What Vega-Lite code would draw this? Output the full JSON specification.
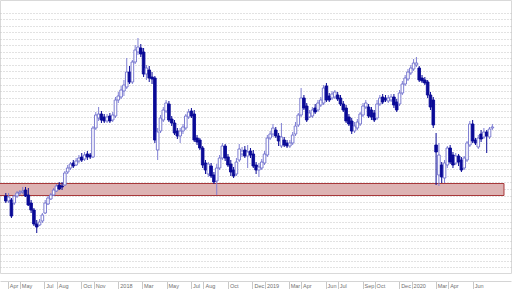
{
"$schema": "https://vega.github.io/schema/vega-lite/v6.json",
"width": 511, "height": 273, "padding": {"left": 0, "top": 0, "right": 5, "bottom": 16}, "autosize": {"type": "none"},
"background": "white",
"config": {"view": {"stroke": "#d9d9d9"}},
"datasets": {
"band": [{"d": "2017-03-01", "d2": "2020-08-18", "l": 10.45, "h": 11.65}],
"candles": [
{"d":"2017-03-27","o":10.4,"h":10.7,"l":9.7,"c":9.9},
{"d":"2017-04-03","o":9.9,"h":10.7,"l":9.7,"c":10.3},
{"d":"2017-04-10","o":10.0,"h":10.2,"l":8.2,"c":8.4},
{"d":"2017-04-17","o":9.7,"h":10.5,"l":9.5,"c":10.4},
{"d":"2017-04-24","o":10.4,"h":10.9,"l":10.2,"c":10.7},
{"d":"2017-05-01","o":10.7,"h":11.0,"l":10.5,"c":10.8},
{"d":"2017-05-08","o":10.8,"h":11.3,"l":10.6,"c":10.9},
{"d":"2017-05-15","o":11.0,"h":11.3,"l":10.3,"c":10.4},
{"d":"2017-05-22","o":10.5,"h":11.2,"l":9.4,"c":9.5},
{"d":"2017-05-29","o":9.7,"h":10.0,"l":8.7,"c":9.0},
{"d":"2017-06-05","o":9.0,"h":9.2,"l":7.4,"c":7.6},
{"d":"2017-06-12","o":7.6,"h":8.0,"l":6.7,"c":7.3},
{"d":"2017-06-19","o":7.5,"h":8.1,"l":7.4,"c":7.8},
{"d":"2017-06-26","o":7.9,"h":8.7,"l":7.7,"c":8.5},
{"d":"2017-07-03","o":8.7,"h":10.0,"l":8.6,"c":9.7},
{"d":"2017-07-10","o":9.6,"h":10.4,"l":9.5,"c":10.2},
{"d":"2017-07-17","o":10.1,"h":10.7,"l":10.0,"c":10.5},
{"d":"2017-07-24","o":10.5,"h":11.2,"l":10.4,"c":11.0},
{"d":"2017-07-31","o":10.9,"h":11.6,"l":10.8,"c":11.4},
{"d":"2017-08-07","o":11.5,"h":11.8,"l":11.0,"c":11.1},
{"d":"2017-08-14","o":11.4,"h":11.8,"l":11.0,"c":11.3},
{"d":"2017-08-21","o":11.5,"h":12.9,"l":11.4,"c":12.7},
{"d":"2017-08-28","o":12.8,"h":13.5,"l":12.6,"c":13.2},
{"d":"2017-09-04","o":13.2,"h":13.8,"l":13.0,"c":13.6},
{"d":"2017-09-11","o":13.7,"h":14.0,"l":13.2,"c":13.4},
{"d":"2017-09-18","o":13.5,"h":14.2,"l":13.4,"c":13.9},
{"d":"2017-09-25","o":13.9,"h":14.5,"l":13.7,"c":14.2},
{"d":"2017-10-02","o":14.3,"h":14.7,"l":13.8,"c":14.0},
{"d":"2017-10-09","o":14.1,"h":14.8,"l":13.9,"c":14.5},
{"d":"2017-10-16","o":14.6,"h":14.9,"l":14.0,"c":14.3},
{"d":"2017-10-23","o":14.5,"h":14.7,"l":14.1,"c":14.3},
{"d":"2017-10-30","o":14.3,"h":17.4,"l":14.2,"c":17.2},
{"d":"2017-11-06","o":17.2,"h":18.8,"l":17.0,"c":18.5},
{"d":"2017-11-13","o":18.2,"h":19.3,"l":17.9,"c":18.6},
{"d":"2017-11-20","o":18.6,"h":18.9,"l":17.7,"c":18.0},
{"d":"2017-11-27","o":18.3,"h":18.6,"l":17.7,"c":17.9},
{"d":"2017-12-04","o":17.9,"h":18.6,"l":17.7,"c":18.3},
{"d":"2017-12-11","o":18.4,"h":18.7,"l":17.7,"c":17.9},
{"d":"2017-12-18","o":18.0,"h":18.8,"l":17.8,"c":18.5},
{"d":"2017-12-25","o":18.4,"h":20.3,"l":18.2,"c":20.0},
{"d":"2018-01-01","o":20.0,"h":20.8,"l":19.7,"c":20.4},
{"d":"2018-01-08","o":20.3,"h":21.4,"l":20.1,"c":21.0},
{"d":"2018-01-15","o":20.9,"h":22.0,"l":20.4,"c":21.5},
{"d":"2018-01-22","o":21.3,"h":24.2,"l":21.1,"c":22.8},
{"d":"2018-01-29","o":22.8,"h":23.4,"l":21.6,"c":21.8},
{"d":"2018-02-05","o":21.8,"h":24.0,"l":21.6,"c":23.8},
{"d":"2018-02-12","o":23.8,"h":25.5,"l":23.6,"c":25.0},
{"d":"2018-02-19","o":24.8,"h":26.2,"l":24.5,"c":25.3},
{"d":"2018-02-26","o":25.2,"h":25.6,"l":24.3,"c":24.6},
{"d":"2018-03-05","o":24.8,"h":25.2,"l":22.3,"c":22.6},
{"d":"2018-03-12","o":22.6,"h":23.5,"l":22.0,"c":23.2},
{"d":"2018-03-19","o":23.0,"h":23.4,"l":21.8,"c":22.2},
{"d":"2018-03-26","o":22.3,"h":22.8,"l":21.6,"c":22.1},
{"d":"2018-04-02","o":22.2,"h":22.4,"l":15.7,"c":16.0},
{"d":"2018-04-09","o":15.0,"h":17.2,"l":14.0,"c":16.8},
{"d":"2018-04-16","o":16.9,"h":18.5,"l":16.7,"c":18.2},
{"d":"2018-04-23","o":18.0,"h":19.3,"l":17.8,"c":19.0},
{"d":"2018-04-30","o":18.9,"h":20.0,"l":18.7,"c":19.7},
{"d":"2018-05-07","o":19.6,"h":19.9,"l":17.8,"c":18.0},
{"d":"2018-05-14","o":18.1,"h":18.4,"l":17.4,"c":17.7},
{"d":"2018-05-21","o":17.7,"h":18.0,"l":16.5,"c":16.7},
{"d":"2018-05-28","o":16.9,"h":17.2,"l":16.1,"c":16.4},
{"d":"2018-06-04","o":16.4,"h":17.2,"l":15.7,"c":16.9},
{"d":"2018-06-11","o":16.9,"h":17.6,"l":16.6,"c":17.3},
{"d":"2018-06-18","o":17.2,"h":18.6,"l":17.0,"c":18.4},
{"d":"2018-06-25","o":18.3,"h":19.1,"l":18.1,"c":18.8},
{"d":"2018-07-02","o":18.9,"h":19.2,"l":18.2,"c":18.4},
{"d":"2018-07-09","o":18.6,"h":19.0,"l":15.8,"c":16.0},
{"d":"2018-07-16","o":16.2,"h":16.5,"l":15.5,"c":15.8},
{"d":"2018-07-23","o":16.0,"h":16.2,"l":15.0,"c":15.2},
{"d":"2018-07-30","o":15.2,"h":15.4,"l":13.2,"c":13.5},
{"d":"2018-08-06","o":13.7,"h":14.0,"l":12.6,"c":13.0},
{"d":"2018-08-13","o":12.6,"h":13.8,"l":12.3,"c":13.6},
{"d":"2018-08-20","o":13.4,"h":13.7,"l":12.2,"c":12.4},
{"d":"2018-08-27","o":12.5,"h":12.8,"l":11.6,"c":11.8},
{"d":"2018-09-03","o":11.9,"h":13.6,"l":10.5,"c":13.2},
{"d":"2018-09-10","o":13.2,"h":14.5,"l":13.0,"c":14.2},
{"d":"2018-09-17","o":14.2,"h":15.7,"l":14.0,"c":15.4},
{"d":"2018-09-24","o":15.4,"h":15.6,"l":13.9,"c":14.2},
{"d":"2018-10-01","o":14.3,"h":14.6,"l":13.3,"c":13.5},
{"d":"2018-10-08","o":13.6,"h":14.0,"l":12.4,"c":12.8},
{"d":"2018-10-15","o":13.0,"h":13.3,"l":12.2,"c":12.4},
{"d":"2018-10-22","o":12.6,"h":14.2,"l":12.4,"c":13.8},
{"d":"2018-10-29","o":14.0,"h":15.6,"l":13.8,"c":15.1},
{"d":"2018-11-05","o":14.6,"h":15.3,"l":14.3,"c":14.9},
{"d":"2018-11-12","o":15.0,"h":15.4,"l":14.2,"c":14.4},
{"d":"2018-11-19","o":14.4,"h":15.5,"l":13.2,"c":14.8},
{"d":"2018-11-26","o":14.9,"h":15.2,"l":14.2,"c":14.5},
{"d":"2018-12-03","o":14.6,"h":15.0,"l":13.2,"c":13.4},
{"d":"2018-12-10","o":13.5,"h":13.8,"l":12.6,"c":13.0},
{"d":"2018-12-17","o":13.0,"h":13.7,"l":12.3,"c":13.3},
{"d":"2018-12-24","o":13.2,"h":14.1,"l":13.0,"c":13.8},
{"d":"2018-12-31","o":13.7,"h":14.9,"l":13.5,"c":14.6},
{"d":"2019-01-07","o":14.5,"h":16.5,"l":14.3,"c":16.2},
{"d":"2019-01-14","o":16.2,"h":16.9,"l":16.0,"c":16.6},
{"d":"2019-01-21","o":16.6,"h":17.6,"l":16.3,"c":17.2},
{"d":"2019-01-28","o":17.0,"h":17.3,"l":16.2,"c":16.4},
{"d":"2019-02-04","o":16.4,"h":16.7,"l":15.4,"c":15.9},
{"d":"2019-02-11","o":15.4,"h":17.7,"l":15.2,"c":16.3},
{"d":"2019-02-18","o":16.0,"h":16.3,"l":15.3,"c":15.5},
{"d":"2019-02-25","o":15.7,"h":16.0,"l":15.2,"c":15.4},
{"d":"2019-03-04","o":15.4,"h":16.0,"l":15.2,"c":15.7},
{"d":"2019-03-11","o":15.7,"h":16.8,"l":15.5,"c":16.5},
{"d":"2019-03-18","o":16.6,"h":17.8,"l":16.4,"c":17.4},
{"d":"2019-03-25","o":17.5,"h":18.7,"l":17.3,"c":18.5},
{"d":"2019-04-01","o":18.5,"h":21.2,"l":18.3,"c":20.2},
{"d":"2019-04-08","o":20.2,"h":20.5,"l":19.0,"c":19.2},
{"d":"2019-04-15","o":19.4,"h":19.7,"l":17.8,"c":18.0},
{"d":"2019-04-22","o":18.3,"h":19.0,"l":18.2,"c":18.7},
{"d":"2019-04-29","o":18.4,"h":19.3,"l":18.2,"c":19.0},
{"d":"2019-05-06","o":19.2,"h":19.6,"l":18.6,"c":18.8},
{"d":"2019-05-13","o":19.0,"h":20.0,"l":18.8,"c":19.7},
{"d":"2019-05-20","o":19.5,"h":20.3,"l":19.3,"c":20.0},
{"d":"2019-05-27","o":19.7,"h":21.5,"l":19.5,"c":21.2},
{"d":"2019-06-03","o":21.4,"h":21.7,"l":19.8,"c":20.0},
{"d":"2019-06-10","o":20.4,"h":20.7,"l":19.8,"c":20.0},
{"d":"2019-06-17","o":20.2,"h":20.9,"l":20.0,"c":20.6},
{"d":"2019-06-24","o":20.3,"h":21.0,"l":20.1,"c":20.8},
{"d":"2019-07-01","o":20.5,"h":20.8,"l":19.9,"c":20.1},
{"d":"2019-07-08","o":20.2,"h":20.5,"l":19.4,"c":19.6},
{"d":"2019-07-15","o":19.6,"h":19.9,"l":18.8,"c":19.0},
{"d":"2019-07-22","o":19.2,"h":19.5,"l":17.7,"c":17.9},
{"d":"2019-07-29","o":18.3,"h":18.6,"l":17.4,"c":17.6},
{"d":"2019-08-05","o":17.9,"h":18.2,"l":16.6,"c":16.9},
{"d":"2019-08-12","o":16.9,"h":17.8,"l":16.7,"c":17.4},
{"d":"2019-08-19","o":17.2,"h":18.1,"l":17.0,"c":17.8},
{"d":"2019-08-26","o":17.6,"h":18.8,"l":17.4,"c":18.6},
{"d":"2019-09-02","o":18.5,"h":19.7,"l":18.3,"c":19.4},
{"d":"2019-09-09","o":19.3,"h":20.0,"l":19.1,"c":19.7},
{"d":"2019-09-16","o":19.3,"h":19.6,"l":18.2,"c":18.4},
{"d":"2019-09-23","o":19.0,"h":19.3,"l":18.0,"c":18.3},
{"d":"2019-09-30","o":18.7,"h":19.0,"l":17.8,"c":18.0},
{"d":"2019-10-07","o":18.2,"h":20.0,"l":18.0,"c":19.6},
{"d":"2019-10-14","o":19.6,"h":20.5,"l":19.4,"c":20.2},
{"d":"2019-10-21","o":20.3,"h":20.6,"l":19.6,"c":19.8},
{"d":"2019-10-28","o":20.2,"h":20.5,"l":19.8,"c":20.0},
{"d":"2019-11-04","o":19.9,"h":20.5,"l":19.7,"c":20.2},
{"d":"2019-11-11","o":20.0,"h":20.6,"l":19.8,"c":20.3},
{"d":"2019-11-18","o":20.3,"h":20.6,"l":19.2,"c":19.5},
{"d":"2019-11-25","o":19.8,"h":20.1,"l":18.8,"c":19.0},
{"d":"2019-12-02","o":19.6,"h":21.0,"l":19.4,"c":20.7},
{"d":"2019-12-09","o":20.7,"h":21.9,"l":20.5,"c":21.6},
{"d":"2019-12-16","o":21.6,"h":22.5,"l":21.4,"c":22.2},
{"d":"2019-12-23","o":22.1,"h":23.1,"l":21.9,"c":22.8},
{"d":"2019-12-30","o":22.7,"h":23.5,"l":22.5,"c":23.2},
{"d":"2020-01-06","o":23.1,"h":24.1,"l":22.9,"c":23.7},
{"d":"2020-01-13","o":23.5,"h":24.3,"l":23.3,"c":23.7},
{"d":"2020-01-20","o":23.2,"h":23.4,"l":21.8,"c":22.0},
{"d":"2020-01-27","o":22.2,"h":22.5,"l":21.7,"c":21.9},
{"d":"2020-02-03","o":22.0,"h":22.3,"l":21.5,"c":21.7},
{"d":"2020-02-10","o":21.8,"h":22.0,"l":20.2,"c":20.5},
{"d":"2020-02-17","o":20.5,"h":20.8,"l":19.0,"c":19.3},
{"d":"2020-02-24","o":20.0,"h":20.3,"l":17.2,"c":17.5},
{"d":"2020-03-02","o":15.5,"h":16.7,"l":11.5,"c":14.8},
{"d":"2020-03-09","o":12.5,"h":15.7,"l":11.4,"c":14.5},
{"d":"2020-03-16","o":13.5,"h":13.8,"l":11.7,"c":12.3},
{"d":"2020-03-23","o":12.2,"h":14.0,"l":11.7,"c":13.7},
{"d":"2020-03-30","o":13.5,"h":15.4,"l":13.2,"c":15.2},
{"d":"2020-04-06","o":15.2,"h":15.5,"l":13.6,"c":13.8},
{"d":"2020-04-13","o":14.5,"h":14.8,"l":13.2,"c":13.5},
{"d":"2020-04-20","o":13.7,"h":14.7,"l":13.5,"c":14.4},
{"d":"2020-04-27","o":14.4,"h":14.6,"l":13.4,"c":13.8},
{"d":"2020-05-04","o":14.0,"h":14.3,"l":12.8,"c":13.0},
{"d":"2020-05-11","o":13.2,"h":14.4,"l":13.0,"c":14.2},
{"d":"2020-05-18","o":14.0,"h":15.9,"l":13.8,"c":15.7},
{"d":"2020-05-25","o":15.5,"h":17.9,"l":15.3,"c":17.6},
{"d":"2020-06-01","o":17.6,"h":18.0,"l":15.7,"c":15.9},
{"d":"2020-06-08","o":16.0,"h":16.2,"l":15.5,"c":15.7},
{"d":"2020-06-15","o":15.3,"h":16.5,"l":15.1,"c":16.2},
{"d":"2020-06-22","o":16.6,"h":17.0,"l":15.8,"c":16.1},
{"d":"2020-06-29","o":16.3,"h":17.2,"l":16.1,"c":16.8},
{"d":"2020-07-06","o":16.8,"h":17.0,"l":14.7,"c":16.4},
{"d":"2020-07-13","o":16.3,"h":17.3,"l":16.1,"c":17.1},
{"d":"2020-07-20","o":17.2,"h":17.6,"l":17.0,"c":17.3}
]
},
"encoding": {
"x": {"field": "d", "type": "temporal",
 "scale": {"type": "utc", "domain": [{"year": 2017, "month": 3, "date": 25, "utc": true}, {"year": 2020, "month": 8, "date": 23, "utc": true}]},
 "axis": {"title": null, "grid": false, "offset": 8, "domainColor": "#d4d4d4", "tickColor": "#c8c8c8", "tickSize": 8, "labelFontSize": 5.5, "labelFont": "Liberation Sans", "labelColor": "#707070", "labelAlign": "left", "labelBaseline": "top", "labelPadding": -5.5, "labelOffset": 1.5, "labelOverlap": false, "labelBound": false, "labelFlush": false,
 "values": [
 {"year": 2017, "month": 4, "date": 1, "utc": true},
 {"year": 2017, "month": 5, "date": 1, "utc": true},
 {"year": 2017, "month": 7, "date": 1, "utc": true},
 {"year": 2017, "month": 8, "date": 1, "utc": true},
 {"year": 2017, "month": 10, "date": 1, "utc": true},
 {"year": 2017, "month": 11, "date": 1, "utc": true},
 {"year": 2018, "month": 1, "date": 1, "utc": true},
 {"year": 2018, "month": 3, "date": 1, "utc": true},
 {"year": 2018, "month": 5, "date": 1, "utc": true},
 {"year": 2018, "month": 7, "date": 1, "utc": true},
 {"year": 2018, "month": 8, "date": 1, "utc": true},
 {"year": 2018, "month": 10, "date": 1, "utc": true},
 {"year": 2018, "month": 12, "date": 1, "utc": true},
 {"year": 2019, "month": 1, "date": 1, "utc": true},
 {"year": 2019, "month": 3, "date": 1, "utc": true},
 {"year": 2019, "month": 4, "date": 1, "utc": true},
 {"year": 2019, "month": 6, "date": 1, "utc": true},
 {"year": 2019, "month": 7, "date": 1, "utc": true},
 {"year": 2019, "month": 9, "date": 1, "utc": true},
 {"year": 2019, "month": 10, "date": 1, "utc": true},
 {"year": 2019, "month": 12, "date": 1, "utc": true},
 {"year": 2020, "month": 1, "date": 1, "utc": true},
 {"year": 2020, "month": 3, "date": 1, "utc": true},
 {"year": 2020, "month": 4, "date": 1, "utc": true},
 {"year": 2020, "month": 6, "date": 1, "utc": true}
 ],
 "labelExpr": "utcFormat(datum.value, '%m') == '01' ? utcFormat(datum.value, '%Y') : utcFormat(datum.value, '%b')"}},
"y": {"field": "l", "type": "quantitative",
 "scale": {"domain": [2.7, 30], "zero": false, "nice": false},
 "axis": {"title": null, "labels": false, "ticks": false, "domain": false, "grid": true, "gridDash": [1, 2], "gridColor": "#c4c4c4", "gridWidth": 1,
 "values": [28.73,28.08,27.42,26.77,26.12,25.47,24.81,24.16,23.51,22.86,22.2,21.55,20.9,20.24,19.59,18.94,18.29,17.63,16.98,16.33,15.67,15.02,14.37,13.72,13.06,12.41,11.76,11.1,10.45,9.8,9.15,8.49,7.84,7.19,6.54,5.88,5.23,4.58,3.93,3.27]}},
"y2": {"field": "h"}
},
"layer": [
{
"data": {"name": "band"},
"mark": {"type": "rect", "fill": "#ddb3b3", "stroke": "#a8383a", "strokeWidth": 1, "clip": true},
"encoding": {"x2": {"field": "d2"}}
},
{
"data": {"name": "candles"},
"mark": {"type": "rule", "strokeWidth": 1},
"encoding": {
"color": {"condition": {"test": "datum.c < datum.o", "value": "#0a0a96"}, "value": "#8080d4"}
}
},
{
"data": {"name": "candles"},
"mark": {"type": "bar", "size": 2.6, "strokeWidth": 0.9},
"encoding": {
"y": {"field": "o", "type": "quantitative",
 "scale": {"domain": [2.7, 30], "zero": false, "nice": false},
 "axis": {"title": null, "labels": false, "ticks": false, "domain": false, "grid": true, "gridDash": [1, 2], "gridColor": "#c4c4c4", "gridWidth": 1,
 "values": [28.73,28.08,27.42,26.77,26.12,25.47,24.81,24.16,23.51,22.86,22.2,21.55,20.9,20.24,19.59,18.94,18.29,17.63,16.98,16.33,15.67,15.02,14.37,13.72,13.06,12.41,11.76,11.1,10.45,9.8,9.15,8.49,7.84,7.19,6.54,5.88,5.23,4.58,3.93,3.27]}},
"y2": {"field": "c"},
"fill": {"condition": {"test": "datum.c < datum.o", "value": "#0a0a96"}, "value": "#ffffff"},
"stroke": {"condition": {"test": "datum.c < datum.o", "value": "#0a0a96"}, "value": "#6e6ecc"}
}
}
]
}
